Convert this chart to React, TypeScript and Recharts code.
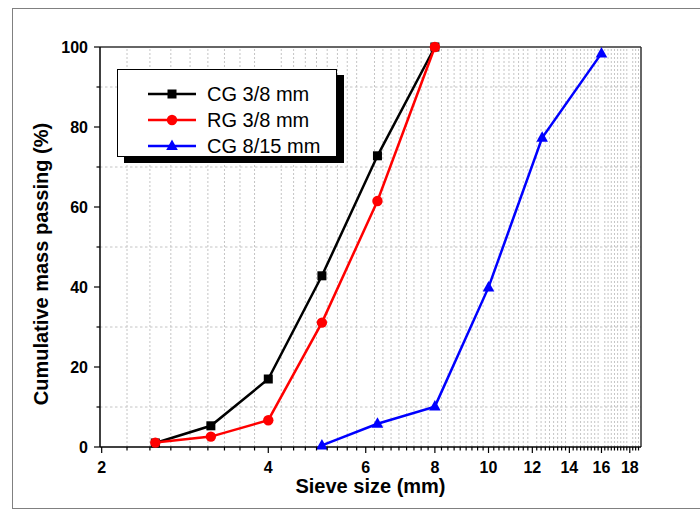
import React from 'react';
import {
  LineChart,
  Line,
  XAxis,
  YAxis,
  ReferenceLine,
  Legend,
  Label,
} from 'recharts';

// sieve sizes (mm) and cumulative passing (%)
const cg38 = [
  { x: 2.5, y: 1.0 },
  { x: 3.15, y: 5.3 },
  { x: 4, y: 17.0 },
  { x: 5, y: 42.8 },
  { x: 6.3, y: 72.8 },
  { x: 8, y: 100 },
];

const rg38 = [
  { x: 2.5, y: 1.1 },
  { x: 3.15, y: 2.6 },
  { x: 4, y: 6.7 },
  { x: 5, y: 31.1 },
  { x: 6.3, y: 61.5 },
  { x: 8, y: 100 },
];

const cg815 = [
  { x: 5, y: 0.4 },
  { x: 6.3, y: 5.8 },
  { x: 8, y: 10.1 },
  { x: 10, y: 39.9 },
  { x: 12.5, y: 77.3 },
  { x: 16, y: 98.4 },
];

const X_MAJOR = [2, 4, 6, 8, 10, 12, 14, 16, 18];
const Y_MAJOR = [0, 20, 40, 60, 80, 100];
const Y_MINOR = [10, 30, 50, 70, 90];
const X_MIN = 1.986;
const X_MAX = 18.86;
const MINOR_COUNT = 8; // minor ticks between two major ticks

const X_MINOR: number[] = [];
X_MAJOR.forEach((m) => {
  for (let k = 1; k <= MINOR_COUNT; k++) {
    const v = m + (k * 2) / (MINOR_COUNT + 1);
    if (v < X_MAX) X_MINOR.push(v);
  }
});
const X_TICKS = [...X_MAJOR, ...X_MINOR].sort((a, b) => a - b);
const Y_TICKS = [...Y_MAJOR, ...Y_MINOR].sort((a, b) => a - b);

const FONT = '"Liberation Sans", Arial, Helvetica, sans-serif';
const GRID = '#c4c4c4';

const square = (cx: number, cy: number, key?: any) => (
  <rect key={key} x={cx - 4.5} y={cy - 4.5} width={9} height={9} fill="#000" />
);
const circle = (cx: number, cy: number, key?: any) => (
  <circle key={key} cx={cx} cy={cy} r={5.2} fill="#ff0000" />
);
const triangle = (cx: number, cy: number, key?: any) => (
  <polygon
    key={key}
    points={`${cx},${cy - 6.5} ${cx - 5.8},${cy + 4} ${cx + 5.8},${cy + 4}`}
    fill="#0000ff"
  />
);

const series = [
  { name: 'CG 3/8 mm', data: cg38, color: '#000000', marker: square },
  { name: 'RG 3/8 mm', data: rg38, color: '#ff0000', marker: circle },
  { name: 'CG 8/15 mm', data: cg815, color: '#0000ff', marker: triangle },
];

const XTick = (props: any) => {
  const { x, y, payload } = props;
  const major = X_MAJOR.includes(payload.value);
  return (
    <g>
      <line x1={x} x2={x} y1={y} y2={y + (major ? 6 : 3.5)} stroke="#000" strokeWidth={1.2} />
      {major && (
        <text x={x} y={y + 26} textAnchor="middle" fontFamily={FONT} fontWeight="bold" fontSize={16} fill="#000">
          {payload.value}
        </text>
      )}
    </g>
  );
};

const YTick = (props: any) => {
  const { x, y, payload } = props;
  const major = Y_MAJOR.includes(payload.value);
  return (
    <g>
      <line x1={x} x2={x - (major ? 6 : 3.5)} y1={y} y2={y} stroke="#000" strokeWidth={1.2} />
      {major && (
        <text x={x - 12} y={y + 5.8} textAnchor="end" fontFamily={FONT} fontWeight="bold" fontSize={16} fill="#000">
          {payload.value}
        </text>
      )}
    </g>
  );
};

const LegendBox = () => (
  <svg width={220} height={88} style={{ display: 'block' }}>
    {series.map((s, i) => {
      const cy = 24 + i * 26;
      return (
        <g key={s.name}>
          <line x1={30} x2={78} y1={cy} y2={cy} stroke={s.color} strokeWidth={2.5} />
          {s.marker(54, cy)}
          <text x={89} y={cy + 7} fontFamily={FONT} fontSize={20} fill="#000">
            {s.name}
          </text>
        </g>
      );
    })}
  </svg>
);

export default function App() {
  return (
    <div style={{ position: 'absolute', left: 0, top: 0, width: 700, height: 509, background: '#fff' }}>
      <div
        style={{
          position: 'absolute',
          left: 12,
          top: 8,
          width: 720,
          height: 499,
          border: '1.5px solid #808080',
        }}
      />
      <div style={{ position: 'absolute', left: 0, top: 0 }}>
        <LineChart width={700} height={509} margin={{ top: 47, right: 59, left: 0, bottom: 0 }}>
          <XAxis
            dataKey="x"
            type="number"
            scale="log"
            domain={[X_MIN, X_MAX]}
            allowDataOverflow
            ticks={X_TICKS}
            interval={0}
            height={62}
            tickSize={0}
            tickMargin={0}
            tickLine={false}
            axisLine={{ stroke: '#000', strokeWidth: 1.5 }}
            tick={<XTick />}
          >
            <Label
              value="Sieve size (mm)"
              position="insideBottom"
              offset={16}
              style={{ fontFamily: FONT, fontWeight: 'bold', fontSize: 20, fill: '#000' }}
            />
          </XAxis>
          <YAxis
            type="number"
            domain={[0, 100]}
            ticks={Y_TICKS}
            interval={0}
            width={100}
            tickSize={0}
            tickMargin={0}
            tickLine={false}
            axisLine={{ stroke: '#000', strokeWidth: 1.5 }}
            tick={<YTick />}
          >
            <Label
              content={(p: any) => {
                const vb = p.viewBox || {};
                const cy = vb.y + vb.height / 2 + 17;
                return (
                  <text
                    x={48}
                    y={cy}
                    transform={`rotate(-90, 48, ${cy})`}
                    textAnchor="middle"
                    fontFamily={FONT}
                    fontWeight="bold"
                    fontSize={20}
                    fill="#000"
                  >
                    Cumulative mass passing (%)
                  </text>
                );
              }}
            />
          </YAxis>

          {X_MINOR.map((v) => (
            <ReferenceLine key={`gx-${v}`} x={v} stroke={GRID} strokeDasharray="2 2" strokeWidth={1} />
          ))}
          {Y_MINOR.map((v) => (
            <ReferenceLine key={`gy-${v}`} y={v} stroke={GRID} strokeDasharray="2.5 2.5" strokeWidth={1} />
          ))}
          <ReferenceLine y={100} stroke="#333" strokeWidth={1.5} ifOverflow="visible" />
          <ReferenceLine x={X_MAX} stroke="#333" strokeWidth={1.5} ifOverflow="visible" />

          <Legend
            layout="vertical"
            align="center"
            verticalAlign="middle"
            content={() => <LegendBox />}
            wrapperStyle={{
              left: 117,
              top: 69,
              width: 220,
              height: 88,
              border: '1px solid #000',
              background: '#fff',
              boxShadow: '7px 6px 0 0 #000',
              boxSizing: 'border-box',
            }}
          />

          {series.map((s) => (
            <Line
              key={s.name}
              data={s.data}
              dataKey="y"
              name={s.name}
              type="linear"
              stroke={s.color}
              strokeWidth={2.5}
              dot={(p: any) => s.marker(p.cx, p.cy, `${s.name}-${p.index}`)}
              activeDot={false}
              isAnimationActive={false}
            />
          ))}
        </LineChart>
      </div>
    </div>
  );
}
